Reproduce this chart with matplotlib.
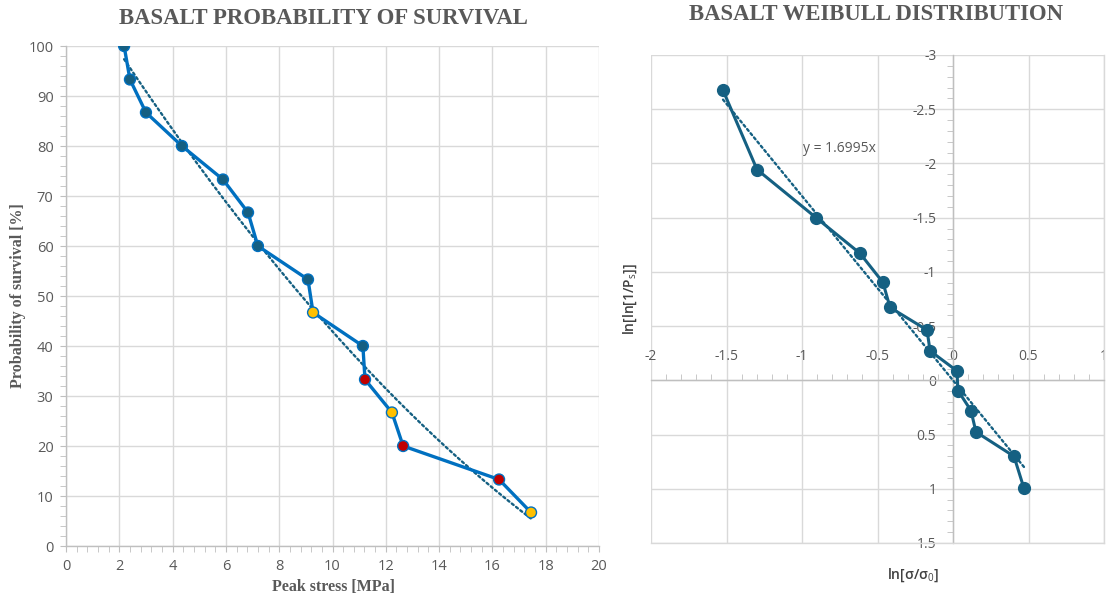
import numpy as np
import matplotlib
matplotlib.use("Agg")
import matplotlib.pyplot as plt
from matplotlib.ticker import MultipleLocator, FixedLocator, FixedFormatter

# ---------------- data ----------------
# Left chart: survival probability vs peak stress
peak_stress = [2.18, 2.40, 3.00, 4.35, 5.89, 6.83, 7.20, 9.08, 9.27, 11.14, 11.22, 12.23, 12.65, 16.25, 17.45]
survival = [100.0, 93.3, 86.7, 80.0, 73.3, 66.7, 60.0, 53.3, 46.7, 40.0, 33.3, 26.7, 20.0, 13.3, 6.7]
marker_fill = ["#155F82", "#155F82", "#155F82", "#155F82", "#155F82", "#155F82", "#155F82", "#155F82",
               "#FFC000", "#155F82", "#C00000", "#FFC000", "#C00000", "#C00000", "#FFC000"]

# Right chart: Weibull linearisation
ln_sigma = [-1.523, -1.298, -0.907, -0.616, -0.464, -0.417, -0.172, -0.152, 0.026, 0.033, 0.119, 0.152, 0.404, 0.470]
ln_ln_ps = [-2.674, -1.944, -1.500, -1.171, -0.903, -0.672, -0.464, -0.272, -0.087, 0.094, 0.279, 0.476, 0.701, 0.996]
weibull_slope = 1.6995
trend_label = "y = 1.6995x"

left_xticks = [0, 2, 4, 6, 8, 10, 12, 14, 16, 18, 20]
left_yticks = [0, 10, 20, 30, 40, 50, 60, 70, 80, 90, 100]
right_xticks = [-2, -1.5, -1, -0.5, 0, 0.5, 1]
right_xticklabels = ["-2", "-1.5", "-1", "-0.5", "0", "0.5", "1"]
right_yticks = [-3, -2.5, -2, -1.5, -1, -0.5, 0, 0.5, 1, 1.5]
right_yticklabels = ["-3", "-2.5", "-2", "-1.5", "-1", "-0.5", "0", "0.5", "1", "1.5"]

# ---------------- style ----------------
W, H = 1109, 598
fig = plt.figure(figsize=(W / 100, H / 100), dpi=100)
SANS = ["Open Sans", "DejaVu Sans"]
SERIF = ["Liberation Serif", "DejaVu Serif"]
TXT = "#595959"
GRID = "#D9D9D9"
AXC = "#BFBFBF"
plt.rcParams["mathtext.fontset"] = "custom"
plt.rcParams["mathtext.rm"] = "Open Sans"
plt.rcParams["mathtext.it"] = "Open Sans"
plt.rcParams["mathtext.bf"] = "Open Sans:bold"


def fx(px):
    return px / W


def fy(py):
    return 1 - py / H


# ---------------- left chart ----------------
axL = fig.add_axes([fx(66), fy(546), (599 - 66) / W, (546 - 46) / H])
axL.set_xlim(0, 20)
axL.set_ylim(0, 100)
axL.set_xticks(left_xticks)
axL.set_yticks(left_yticks)
axL.xaxis.set_minor_locator(MultipleLocator(0.4))
axL.yaxis.set_minor_locator(MultipleLocator(2))
axL.grid(True, which="major", color=GRID, lw=1.0)
axL.set_axisbelow(True)
for s in ["top", "right"]:
    axL.spines[s].set_visible(False)
for s in ["left", "bottom"]:
    axL.spines[s].set_color(AXC)
    axL.spines[s].set_linewidth(1.0)
axL.tick_params(which="major", length=4, color=AXC, labelsize=10.5, labelcolor=TXT, pad=5)
axL.tick_params(which="minor", length=4, color=AXC)
for lab in axL.get_xticklabels() + axL.get_yticklabels():
    lab.set_family(SANS)

# trendline (2nd order polynomial fit)
coef = np.polyfit(peak_stress, survival, 2)
xs = np.linspace(min(peak_stress), max(peak_stress), 200)
axL.plot(xs, np.polyval(coef, xs), color="#156082", lw=1.7, linestyle=(0, (1, 1.3)),
         dash_capstyle="round", zorder=3)
axL.plot(peak_stress, survival, color="#0070C0", lw=2.4, zorder=4)
axL.scatter(peak_stress, survival, s=62, c=marker_fill, edgecolors="#0070C0", linewidths=1.0, zorder=5)

fig.text(fx(333), fy(587), "Peak stress [MPa]", family=SERIF, fontweight="bold", fontsize=11.5,
         color=TXT, ha="center", va="center")
fig.text(fx(18), fy(296), "Probability of survival [%]", family=SERIF, fontweight="bold", fontsize=11.5,
         color=TXT, ha="center", va="center", rotation=90)
fig.text(fx(323), fy(18), "BASALT PROBABILITY OF SURVIVAL", family=SERIF, fontweight="bold",
         fontsize=16.4, color=TXT, ha="center", va="center")

# ---------------- right chart ----------------
axR = fig.add_axes([fx(651), fy(543), (1104 - 651) / W, (543 - 55) / H])
axR.set_xlim(-2, 1)
axR.set_ylim(1.5, -3)
axR.xaxis.set_major_locator(FixedLocator(right_xticks))
axR.xaxis.set_major_formatter(FixedFormatter(right_xticklabels))
axR.yaxis.set_major_locator(FixedLocator(right_yticks))
axR.yaxis.set_major_formatter(FixedFormatter(right_yticklabels))
axR.xaxis.set_minor_locator(MultipleLocator(0.1))
axR.yaxis.set_minor_locator(MultipleLocator(0.1))
axR.grid(True, which="major", color=GRID, lw=1.0)
axR.set_axisbelow(True)

axR.xaxis.tick_top()
axR.spines["top"].set_position(("data", 0))
axR.spines["left"].set_position(("data", 0))
axR.spines["top"].set_color(AXC)
axR.spines["left"].set_color(AXC)
axR.spines["right"].set_color(GRID)
axR.spines["bottom"].set_color(GRID)
for s in ["top", "left", "right", "bottom"]:
    axR.spines[s].set_linewidth(1.0)
axR.tick_params(which="major", length=0, labelsize=10, labelcolor=TXT)
axR.tick_params(axis="y", which="major", pad=12)
axR.tick_params(axis="x", which="major", pad=12)
axR.tick_params(which="minor", length=4, color=AXC)
for lab in axR.get_xticklabels() + axR.get_yticklabels():
    lab.set_family(SANS)
    lab.set_zorder(1)

xt = np.array([min(ln_sigma), max(ln_sigma)])
axR.plot(xt, weibull_slope * xt, color="#156082", lw=1.7, linestyle=(0, (1, 1.3)),
         dash_capstyle="round", zorder=3)
axR.plot(ln_sigma, ln_ln_ps, color="#156082", lw=2.2, marker="o", markersize=8.5,
         markerfacecolor="#156082", markeredgecolor="#156082", zorder=4)

axR.text(-0.993, -2.14, trend_label, family=SANS, fontsize=10, color=TXT, ha="left", va="center")

fig.text(fx(913), fy(575), r"ln[σ/σ$_0$]", family=SANS, fontsize=10, color="#404040",
         fontweight="semibold", ha="center", va="center")
fig.text(fx(630), fy(299), r"ln[ln[1/P$_s$]]", family=SANS, fontsize=10, color="#404040",
         fontweight="semibold", ha="center", va="center", rotation=90)
fig.text(fx(876), fy(15), "BASALT WEIBULL DISTRIBUTION", family=SERIF, fontweight="bold",
         fontsize=16.4, color=TXT, ha="center", va="center")

fig.savefig("out.png", dpi=100)
